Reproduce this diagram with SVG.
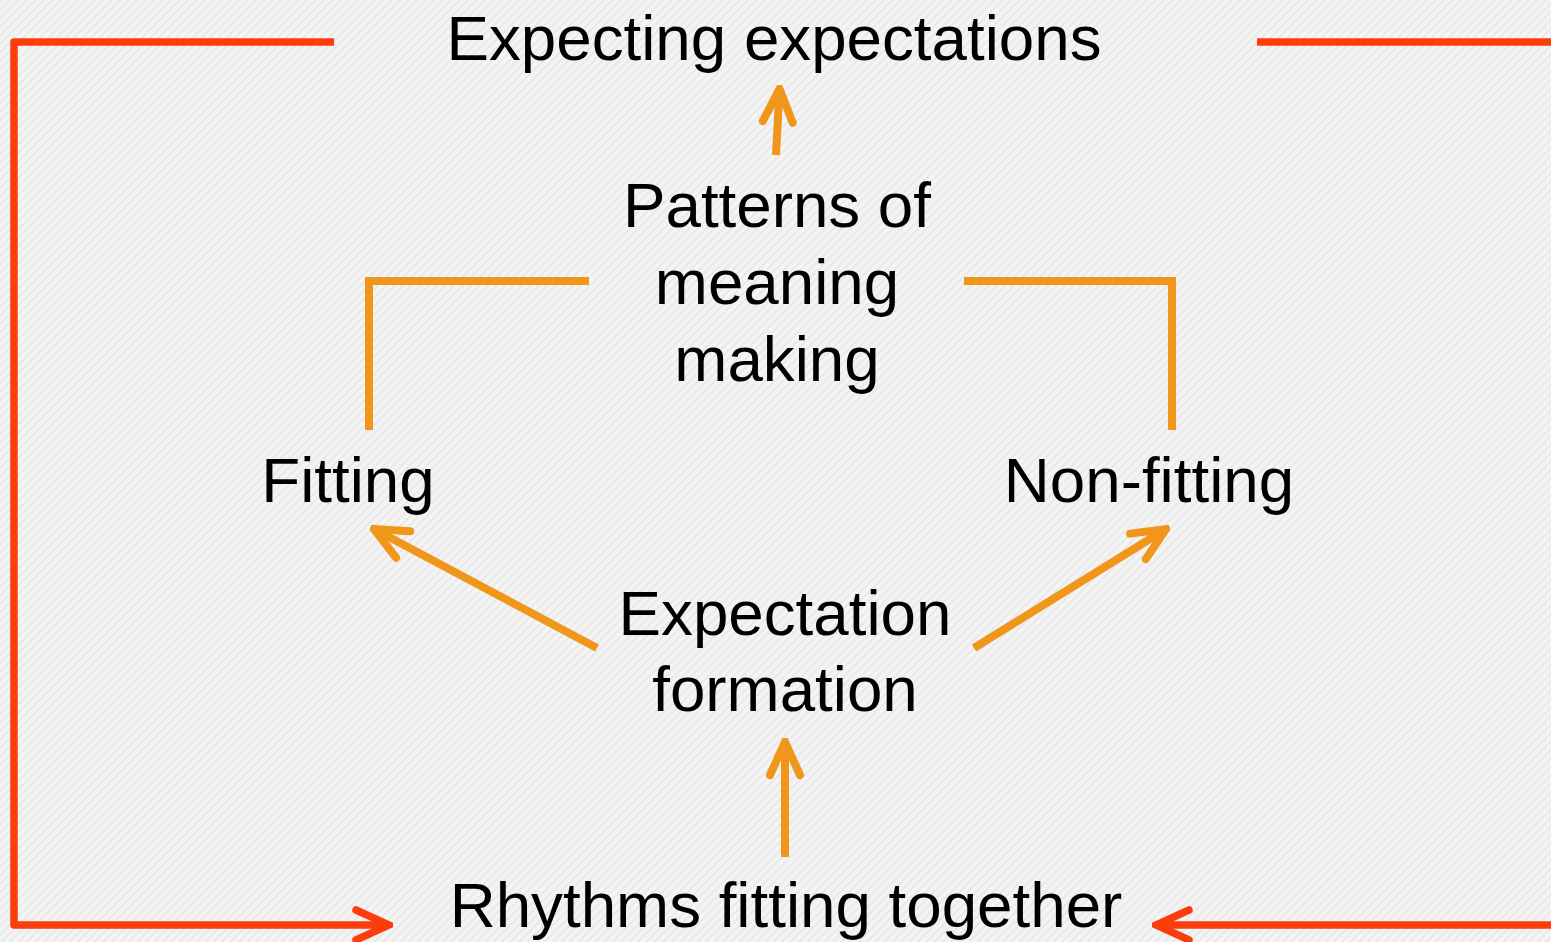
<svg xmlns="http://www.w3.org/2000/svg" width="1551" height="942" viewBox="0 0 1551 942">
<defs>
<pattern id="stripes" width="6" height="6" patternUnits="userSpaceOnUse" patternTransform="rotate(45)">
<rect width="6" height="6" fill="#f4f4f4"/>
<rect width="2" height="6" fill="#e9e9e9"/>
</pattern>
<marker id="ar" viewBox="-40 -20 44 40" refX="0" refY="0" markerWidth="44" markerHeight="40" markerUnits="userSpaceOnUse" orient="auto">
<path d="M-33,-15 L0,0 L-33,15" fill="none" stroke="#fb3d0c" stroke-width="7.5" stroke-linecap="round" stroke-linejoin="miter"/>
</marker>
<marker id="ao" viewBox="-40 -20 44 40" refX="0" refY="0" markerWidth="44" markerHeight="40" markerUnits="userSpaceOnUse" orient="auto">
<path d="M-33,-15 L0,0 L-33,15" fill="none" stroke="#f0961a" stroke-width="8" stroke-linecap="round" stroke-linejoin="miter"/>
</marker>
</defs>
<style>
.t{font-family:"Liberation Sans",Arial,sans-serif;font-size:63.7px;fill:#000;text-anchor:middle}
.red{fill:none;stroke:#fb3d0c;stroke-width:7.5}
.org{fill:none;stroke:#f0961a;stroke-width:8}
</style>
<rect width="1551" height="942" fill="url(#stripes)"/>
<g id="connectors">
<path class="red" d="M334,42 H14 V925 H389" marker-end="url(#ar)" stroke-linejoin="round"/>
<path class="red" d="M1257,42 H1551"/>
<path class="red" d="M1551,925 H1156" marker-end="url(#ar)"/>
<path class="org" d="M369,430 V281 H589"/>
<path class="org" d="M964,281 H1172 V430"/>
<path class="org" d="M776,155 L779.5,89" marker-end="url(#ao)"/>
<path class="org" d="M785,857 V742" marker-end="url(#ao)"/>
<path class="org" d="M597,648 L374,529" marker-end="url(#ao)"/>
<path class="org" d="M974,648 L1166,529" marker-end="url(#ao)"/>
</g>
<g id="expecting-expectations"><text class="t" x="774" y="60">Expecting expectations</text></g>
<g id="patterns"><text class="t" x="777" y="227">Patterns of</text><text class="t" x="777" y="304">meaning</text><text class="t" x="777" y="381">making</text></g>
<g id="fitting"><text class="t" x="348" y="502">Fitting</text></g>
<g id="non-fitting"><text class="t" x="1149" y="502">Non-fitting</text></g>
<g id="expectation-formation"><text class="t" x="785" y="635">Expectation</text><text class="t" x="785" y="711">formation</text></g>
<g id="rhythms"><text class="t" x="786" y="927">Rhythms fitting together</text></g>
</svg>
